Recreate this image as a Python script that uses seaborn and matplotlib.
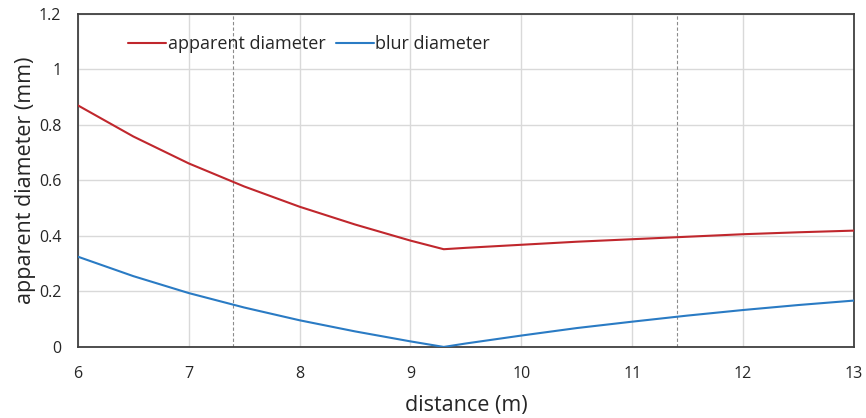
import pandas as pd
import numpy as np
import matplotlib.pyplot as plt
import seaborn as sns
from matplotlib.ticker import FuncFormatter

# -----------------------------------------------------------------------------
# data
# -----------------------------------------------------------------------------
distance = [6.0, 6.5, 7.0, 7.5, 8.0, 8.5, 9.0, 9.3, 9.5, 10.0, 10.5,
            11.0, 11.5, 12.0, 12.5, 13.0]
apparent = [0.870, 0.758, 0.661, 0.578, 0.505, 0.441, 0.383, 0.352, 0.357,
            0.368, 0.379, 0.388, 0.397, 0.406, 0.413, 0.419]
blur = [0.325, 0.255, 0.194, 0.142, 0.096, 0.056, 0.020, 0.0, 0.0125,
        0.041, 0.068, 0.091, 0.113, 0.133, 0.151, 0.167]
marker_lines = [7.4, 11.4]

df = pd.DataFrame({
    "distance": distance * 2,
    "value": apparent + blur,
    "series": ["apparent diameter"] * len(distance) + ["blur diameter"] * len(distance),
})

# -----------------------------------------------------------------------------
# plot
# -----------------------------------------------------------------------------
sns.set_theme(style="white")
plt.rcParams["font.family"] = ["Open Sans", "DejaVu Sans"]

fig = plt.figure(figsize=(8.66, 4.18), dpi=100)
ax = fig.add_axes([0.090, 0.170, 0.896, 0.797])

sns.lineplot(
    data=df, x="distance", y="value", hue="series",
    palette={"apparent diameter": "#C0272D", "blur diameter": "#2A7BC4"},
    linewidth=1.5, ax=ax, zorder=3,
)

for xv in marker_lines:
    ax.axvline(xv, color="#8C8C8C", linestyle=(0, (3, 2)), linewidth=0.8, zorder=2)

ax.set_xlim(6, 13)
ax.set_ylim(0, 1.2)
ax.set_xticks(range(6, 14))
ax.set_yticks(np.arange(0, 1.21, 0.2))
ax.yaxis.set_major_formatter(FuncFormatter(lambda v, p: f"{v:g}"))
ax.grid(True, color="#D9D9D9", linewidth=1.0, zorder=0)
ax.set_axisbelow(True)

for s in ax.spines.values():
    s.set_color("#404040")
    s.set_linewidth(1.3)

ax.tick_params(axis="both", labelsize=11.5, colors="#262626", length=0)
ax.tick_params(axis="x", pad=14)
ax.tick_params(axis="y", pad=12)
ax.set_xlabel("distance (m)", fontsize=15.5, color="#262626", labelpad=9)
ax.set_ylabel("apparent diameter (mm)", fontsize=15.5, color="#262626", labelpad=2)

ax.legend(
    loc="upper left", bbox_to_anchor=(0.044, 0.985), ncol=2, frameon=False,
    fontsize=13, handlelength=2.1, handletextpad=0.1, columnspacing=0.55,
    title=None,
)

plt.savefig("out.png", dpi=100)
